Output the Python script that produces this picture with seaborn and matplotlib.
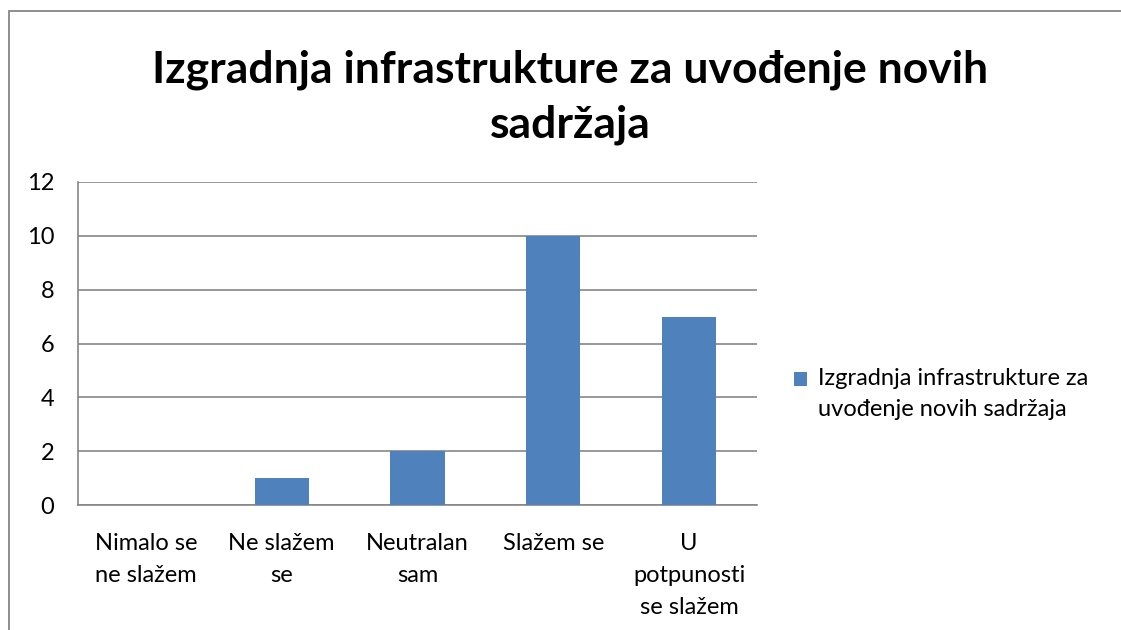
import matplotlib
matplotlib.use("Agg")
import numpy as np
import pandas as pd
import seaborn as sns
from matplotlib import pyplot as plt, ticker
from matplotlib.patches import Rectangle

title = "Izgradnja infrastrukture za uvođenje novih\nsadržaja"
series_name = "Izgradnja infrastrukture za\nuvođenje novih sadržaja"
categories = ["Nimalo se\nne slažem", "Ne slažem\nse", "Neutralan\nsam", "Slažem se",
              "U\npotpunosti\nse slažem"]
values = [0, 1, 2, 10, 7]
y_ticks = [0, 2, 4, 6, 8, 10, 12]

bar_color = "#4F81BD"
axis_color = "#868686"
label_size = 17

sns.set_style("white")
plt.rcParams['font.family'] = ['Lato', 'DejaVu Sans']
plt.rcParams['text.color'] = 'black'

fig = plt.figure(figsize=(11.21, 6.3), dpi=100)
ax = fig.add_axes([78 / 1121, 1 - 505 / 630, (757 - 78) / 1121, (505 - 182) / 630])

df = pd.DataFrame({"cat": categories, "val": values})
sns.barplot(df, x="cat", y="val", color=bar_color, width=0.4, saturation=1,
            linewidth=0, label=series_name, ax=ax, zorder=3)

ax.set_xlim(-0.5, len(categories) - 0.5)
ax.set_ylim(0, 12)
ax.set_yticks(y_ticks)
ax.yaxis.grid(True, color=axis_color, linewidth=1.2, zorder=0)
ax.set_xlabel("")
ax.set_ylabel("")

for side in ["top", "right"]:
    ax.spines[side].set_visible(False)
for side in ["left", "bottom"]:
    ax.spines[side].set_color(axis_color)
    ax.spines[side].set_linewidth(1.2)

# category boundaries get the tick marks, labels sit between them
ax.xaxis.set_minor_locator(ticker.FixedLocator(np.arange(-0.5, len(categories), 1.0)))
ax.tick_params(axis="x", which="major", length=0, labelsize=label_size, pad=20,
               labelcolor="black")
ax.tick_params(axis="x", which="minor", length=8, width=1.2, color=axis_color, direction="out")
ax.tick_params(axis="y", length=8, width=1.2, color=axis_color, direction="out",
               labelsize=label_size, pad=9, labelcolor="black")
for lbl in ax.get_xticklabels():
    lbl.set_linespacing(1.65)
    lbl.set_verticalalignment("top")

fig.text(570 / 1121, 1 - 97 / 630, title, ha="center", va="center",
         fontsize=32, fontweight="bold", linespacing=1.45)

leg = ax.legend(loc="center left", bbox_to_anchor=(773 / 1121, 1 - 394 / 630),
                bbox_transform=fig.transFigure, frameon=False, fontsize=label_size,
                handlelength=0.55, handleheight=0.55, handletextpad=0.45)
for t in leg.get_texts():
    t.set_linespacing(1.6)
# Excel puts the legend key next to the first line of a wrapped label
key = leg.legend_handles[0]
key.set_y(key.get_y() + 11)

# chart area frame, partly cut off by the image edges
fig.patches.append(Rectangle((8.5 / 1121, -0.1), 2, 1.1 - 11.5 / 630,
                             transform=fig.transFigure, fill=False,
                             edgecolor=axis_color, linewidth=1.3))

plt.savefig("out.png", dpi=100)
